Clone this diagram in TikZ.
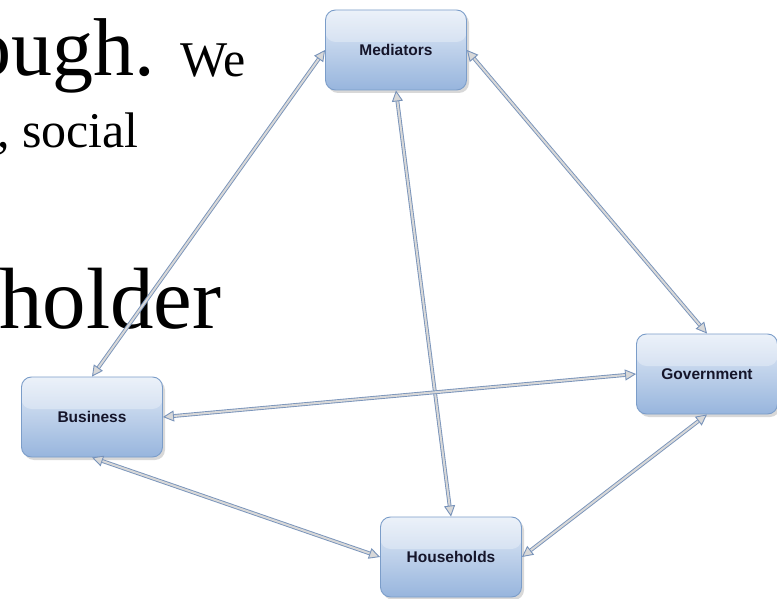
\documentclass[tikz,border=0pt]{standalone}
\usepackage{fontspec}
\setmainfont{Liberation Serif}
\newfontfamily\labelfont{Liberation Sans}
\usetikzlibrary{arrows.meta,shadows}
\definecolor{boxtop}{HTML}{E4ECF7}
\definecolor{boxbot}{HTML}{97B5DD}
\definecolor{boxedge}{HTML}{7B9DC9}
\definecolor{arrowedge}{HTML}{7893BA}
\definecolor{arrowfill}{HTML}{D8D8D8}
\definecolor{labeltext}{HTML}{15152A}
\begin{document}
\begin{tikzpicture}[x=1pt,y=-1pt,
  actor/.style={draw=boxedge, line width=0.9pt, rounded corners=10pt,
    minimum width=141pt, minimum height=80pt, top color=boxtop, bottom color=boxbot,
    drop shadow={shadow xshift=2.5pt,shadow yshift=-3pt,opacity=0.3},
    path picture={\fill[white,opacity=0.3] (path picture bounding box.north west) rectangle ([yshift=8pt]path picture bounding box.east);},
    font=\labelfont\bfseries\fontsize{15.5}{17}\selectfont, text=labeltext},
  link/.style={draw=arrowedge, double=arrowfill, double distance=2pt, line width=0.9pt,
    {Triangle[length=11pt,width=11pt,fill=arrowfill,line width=0.9pt]}-{Triangle[length=11pt,width=11pt,fill=arrowfill,line width=0.9pt]}},
  bigtext/.style={font=\fontsize{82}{84}\selectfont, inner sep=0pt},
  holdtext/.style={font=\fontsize{87}{89}\selectfont, inner sep=0pt},
  midtext/.style={font=\fontsize{50}{52}\selectfont, inner sep=0pt},
]
\useasboundingbox (0,0) rectangle (777,599);
\clip (0,0) rectangle (777,599);
\fill[white] (0,0) rectangle (777,599);

% slide text fragments
\node[bigtext, anchor=base east] (t1) at (155,76) {ough.};
\node[midtext, anchor=base west] (t2) at (180,77) {We};
\node[midtext, anchor=base east] (t3) at (139,148) {, social};
\node[holdtext, anchor=base west] (t4) at (-1,328) {holder};

% boxes
\node[actor] (med) at (396,50) {Mediators};
\node[actor] (bus) at (92,417) {Business};
\node[actor] (gov) at (707,374) {Government};
\node[actor] (hh) at (451,557) {Households};

% connectors
\draw[link] (med.west) -- (bus.north);
\draw[link] (med.east) -- (gov.north);
\draw[link] (med.south) -- (hh.north);
\draw[link] (bus.east) -- (gov.west);
\draw[link] (bus.south) -- (hh.west);
\draw[link] (gov.south) -- (hh.east);
\end{tikzpicture}
\end{document}
